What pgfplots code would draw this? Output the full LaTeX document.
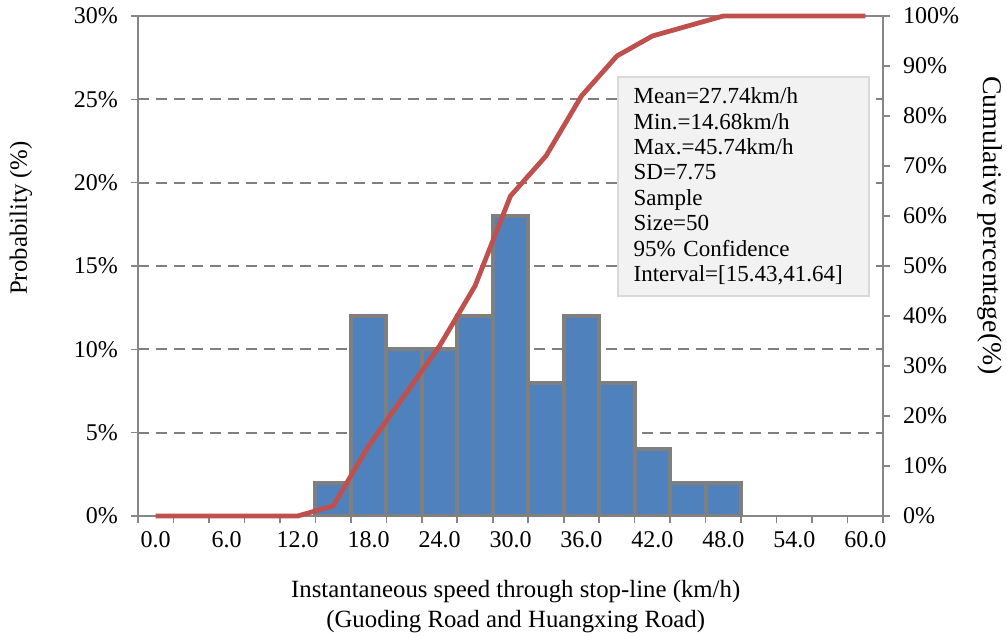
\documentclass[border=0pt]{standalone}
\usepackage{fontspec}
\setmainfont{Liberation Serif}
\usepackage{graphicx}
\usepackage{pgfplots}
\pgfplotsset{compat=1.18}
\definecolor{barblue}{HTML}{4F81BD}
\definecolor{bargray}{HTML}{7F7F7F}
\definecolor{linered}{HTML}{C0504D}
\definecolor{axgray}{HTML}{868686}
\definecolor{boxfill}{HTML}{F2F2F2}
\definecolor{boxedge}{HTML}{D9D9D9}
\begin{document}
\begin{tikzpicture}
\path[use as bounding box] (-69pt,-60.5pt) rectangle (434.5pt,258pt);
\pgfplotsset{
  common/.style={
    at={(0,0)}, anchor=south west,
    scale only axis, width=372.5pt, height=250pt,
    xmin=-0.5, xmax=20.5,
    tick align=outside,
    major tick length=3.5pt,
    tick style={color=axgray, line width=0.8pt},
    axis line style={color=axgray, line width=1pt},
    /pgf/number format/assume math mode=true,
    ticklabel style={font=\fontsize{12}{14}\selectfont},
    label style={font=\fontsize{12.4}{15}\selectfont},
  }
}
\begin{axis}[
  common,
  ymin=0, ymax=30,
  xtick pos=bottom, ytick pos=left,
  xtick={-0.5,0.5,1.5,2.5,3.5,4.5,5.5,6.5,7.5,8.5,9.5,10.5,11.5,12.5,13.5,14.5,15.5,16.5,17.5,18.5,19.5,20.5},
  xticklabels={},
  extra x ticks={0,2,4,6,8,10,12,14,16,18,20},
  extra x tick labels={0.0,6.0,12.0,18.0,24.0,30.0,36.0,42.0,48.0,54.0,60.0},
  extra x tick style={major tick length=0pt, xticklabel style={yshift=-4pt}},
  ytick={0,5,10,15,20,25,30},
  yticklabel={\pgfmathprintnumber{\tick}\%},
  yticklabel style={xshift=-3pt},
  ymajorgrids,
  grid style={color=bargray, line width=0.95pt, dash pattern=on 5.5pt off 3.5pt},
  xlabel={Instantaneous speed through stop-line (km/h)\\(Guoding Road and Huangxing Road)},
  xlabel style={at={(axis description cs:0.507,-0.181)}, anchor=center, align=center},
  ylabel={Probability (\%)},
  ylabel style={at={(axis description cs:-0.157,0.596)}, anchor=center},
]
\addplot[ybar, bar width=1, fill=barblue, draw=bargray, line width=2.1pt]
  coordinates {(5,2) (6,12) (7,10) (8,10) (9,12) (10,18) (11,8) (12,12) (13,8) (14,4) (15,2) (16,2)};
\end{axis}
\begin{axis}[
  common,
  ymin=0, ymax=100,
  axis x line=none,
  axis y line*=right,
  ytick={0,10,20,30,40,50,60,70,80,90,100},
  yticklabel={\pgfmathprintnumber{\tick}\%},
  yticklabel style={xshift=3pt},
  ylabel={\scalebox{1.03}[1]{Cumulative percentage(\%)}},
  ylabel style={at={(axis description cs:1.144,0.581)}, anchor=center, rotate=180, font=\fontsize{13.5}{16}\selectfont},
  clip=false,
]
\addplot[color=linered, line width=2.4pt]
  coordinates {(0,0) (1,0) (2,0) (3,0) (4,0) (5,2) (6,14) (7,24) (8,34) (9,46) (10,64) (11,72) (12,84) (13,92) (14,96) (15,98) (16,100) (17,100) (18,100) (19,100) (20,100)};
\node[anchor=north west, fill=boxfill, draw=boxedge, line width=0.9pt,
      text width=109.7pt, inner xsep=8pt, minimum height=109.5pt,
      align=left, font=\fontsize{11.5}{12.7}\selectfont]
  at (axis description cs:0.6426,0.88)
  {Mean=27.74km/h\\Min.=14.68km/h\\Max.=45.74km/h\\SD=7.75\\Sample\\Size=50\\95\% Confidence\\Interval=[15.43,41.64]};
\end{axis}
\end{tikzpicture}
\end{document}
